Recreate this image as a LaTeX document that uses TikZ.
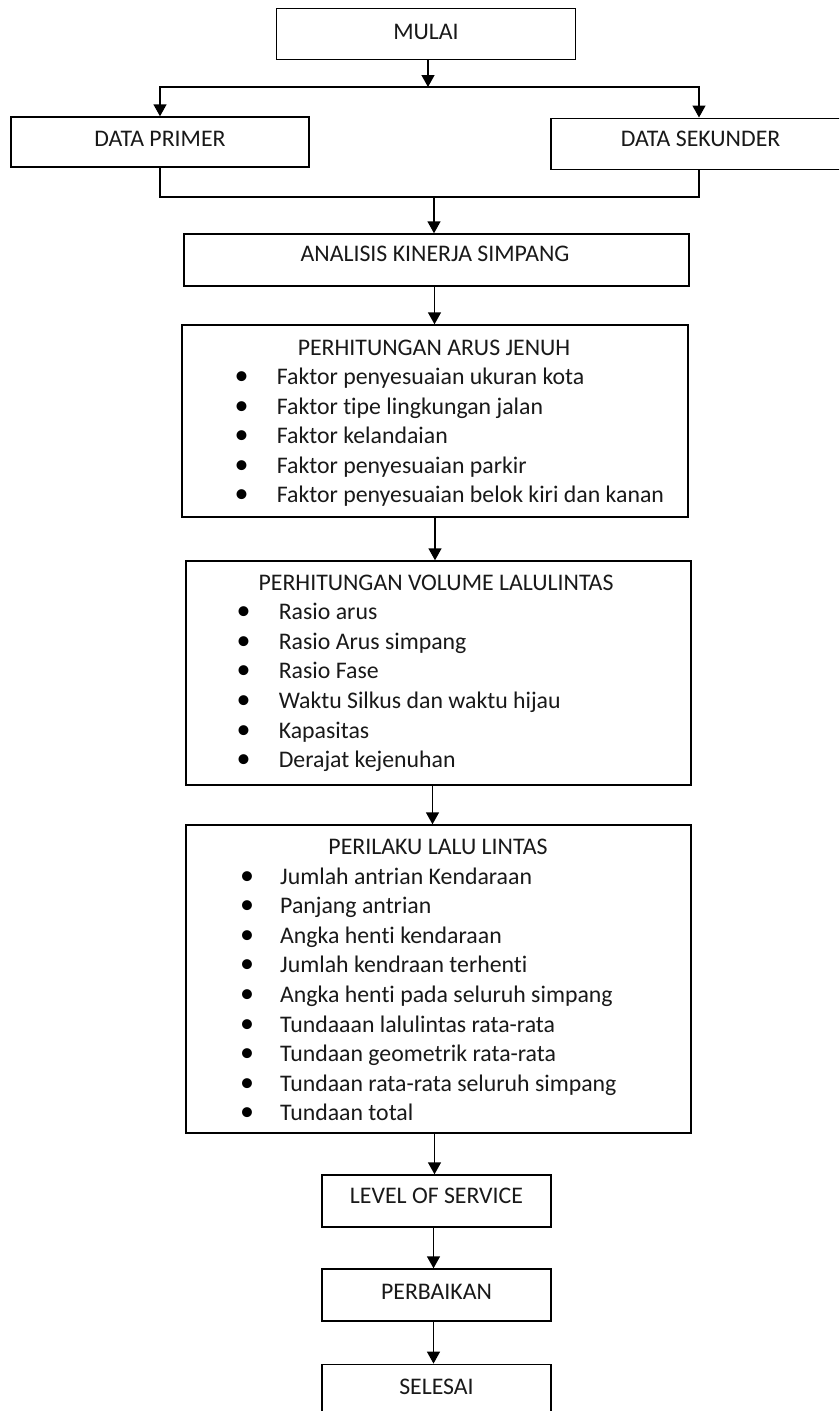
\documentclass[tikz,border=0pt]{standalone}
\usepackage{fontspec}
\setmainfont{Carlito}[Ligatures={NoCommon}]
\usetikzlibrary{arrows.meta}
\tikzset{
  box/.style={draw=black, line width=1.4pt, rectangle, inner sep=0pt},
  txt/.style={inner sep=0pt, anchor=base, font=\fontsize{23.8}{28}\selectfont, text=black!90},
  itm/.style={inner sep=0pt, anchor=base west, font=\fontsize{23.8}{28}\selectfont, text=black!90},
  bul/.style={inner sep=0pt, anchor=base, font=\fontsize{28}{30}\selectfont, text=black},
  link/.style={draw=black, line width=1.4pt},
  arr/.style={link, -{Triangle[length=12pt,width=13pt]}}
}
\begin{document}
\begin{tikzpicture}[x=1pt,y=-1pt]
\path[use as bounding box] (0,0) rectangle (839,1411);
\clip (0,0) rectangle (839,1411);
\fill[white] (0,0) rectangle (839,1411);

% boxes
\node[box, minimum width=299pt, minimum height=51pt] (mulai) at (426,33.8) {};
\node[txt] (mulaiT) at (426,39.5) {MULAI};

\node[box, minimum width=298pt, minimum height=50pt] (dp) at (160,142) {};
\node[txt] (dpT) at (160,146.7) {DATA PRIMER};

\node[box, minimum width=296pt, minimum height=51pt] (ds) at (699,143.7) {};
\node[txt] (dsT) at (700.5,146.7) {DATA SEKUNDER};

\node[box, minimum width=505pt, minimum height=52pt] (ana) at (436.5,260) {};
\node[txt] (anaT) at (435,261.7) {ANALISIS KINERJA SIMPANG};

\node[box, minimum width=506pt, minimum height=192pt] (arus) at (435,421) {};
\node[txt] (arusT) at (434,355) {PERHITUNGAN ARUS JENUH};
\foreach \t [count=\i] in {Faktor penyesuaian ukuran kota, Faktor tipe lingkungan jalan, Faktor kelandaian, Faktor penyesuaian parkir, Faktor penyesuaian belok kiri dan kanan}{
  \node[bul] (arusB\i) at (241.7,355+29.5*\i) {•};
  \node[itm] (arusI\i) at (276.7,355+29.5*\i) {\t};
}

\node[box, minimum width=505pt, minimum height=224pt] (vol) at (438.5,673) {};
\node[txt] (volT) at (436,590) {PERHITUNGAN VOLUME LALULINTAS};
\foreach \t [count=\i] in {Rasio arus, Rasio Arus simpang, Rasio Fase, Waktu Silkus dan waktu hijau, Kapasitas, Derajat kejenuhan}{
  \node[bul] (volB\i) at (243.6,590+29.6*\i) {•};
  \node[itm] (volI\i) at (278.6,590+29.6*\i) {\t};
}

\node[box, minimum width=505pt, minimum height=308pt] (pl) at (438.5,979) {};
\node[txt] (plT) at (438,854.5) {PERILAKU LALU LINTAS};
\foreach \t [count=\i] in {Jumlah antrian Kendaraan, Panjang antrian, Angka henti kendaraan, Jumlah kendraan terhenti, Angka henti pada seluruh simpang, Tundaaan lalulintas rata-rata, Tundaan geometrik rata-rata, Tundaan rata-rata seluruh simpang, Tundaan total}{
  \node[bul] (plB\i) at (247,854.5+29.6*\i) {•};
  \node[itm] (plI\i) at (280,854.5+29.6*\i) {\t};
}

\node[box, minimum width=229pt, minimum height=52pt] (los) at (436.5,1201) {};
\node[txt] (losT) at (436.5,1203.7) {LEVEL OF SERVICE};

\node[box, minimum width=229pt, minimum height=52pt] (perb) at (436.5,1295) {};
\node[txt] (perbT) at (436.5,1299) {PERBAIKAN};

\node[box, minimum width=229pt, minimum height=70pt] (sel) at (436.5,1399.3) {};
\node[txt] (selT) at (436.5,1394.3) {SELESAI};

% connectors
\coordinate (split) at (428,87);
\coordinate (merge) at (434,197);
\draw[arr] (mulai.south -| split) -- (split);
\draw[arr] (split) -| (dp.north);
\draw[arr] (split) -| (ds.north);
\draw[link] (dp.south) |- (merge) -| (ds.south);
\draw[arr] (merge) -- (merge |- ana.north);
\draw[arr] ([xshift=-2pt]ana.south) -- ([xshift=-2pt]ana.south |- arus.north);
\draw[arr] (arus.south) -- (arus.south |- vol.north);
\draw[arr] ([xshift=-6pt]vol.south) -- ([xshift=-6pt]vol.south |- pl.north);
\draw[arr] ([xshift=-4pt]pl.south) -- ([xshift=-4pt]pl.south |- los.north);
\draw[arr] ([xshift=-3pt]los.south) -- ([xshift=-3pt]los.south |- perb.north);
\draw[arr] ([xshift=-3pt]perb.south) -- ([xshift=-3pt]perb.south |- sel.north);
\end{tikzpicture}
\end{document}
